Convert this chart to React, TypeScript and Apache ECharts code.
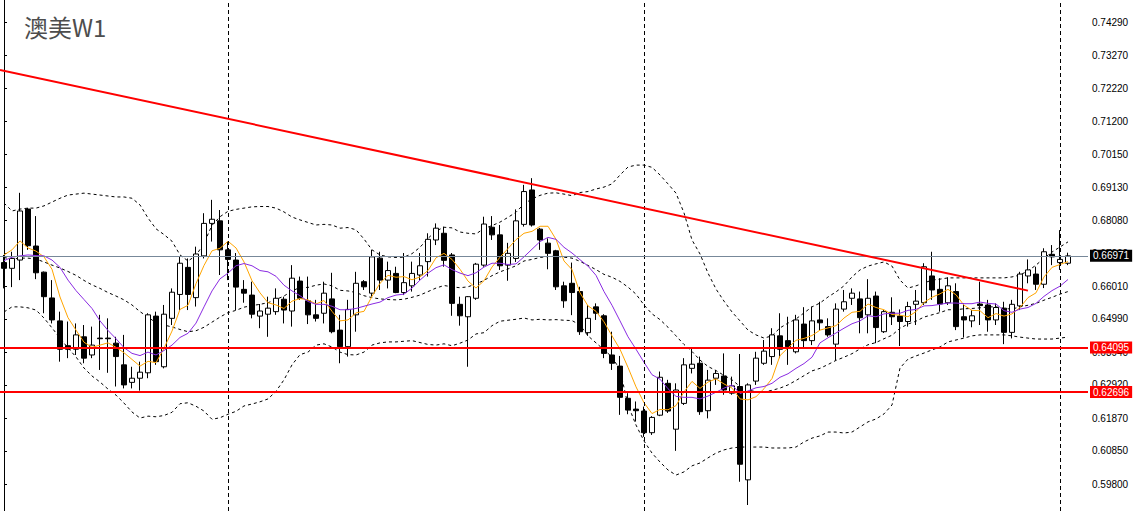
import React, { useEffect, useRef } from 'react';
import * as echarts from 'echarts';

const titleText = '澳美W1';

// weekly candles: [open, close, low, high]
const ohlc: number[][] = [
  [0.6676, 0.6658, 0.6595, 0.6700], [0.6658, 0.6689, 0.6599, 0.6710], [0.6684, 0.6838, 0.6621, 0.6895], [0.6844, 0.6729, 0.6716, 0.6848],
  [0.6728, 0.6644, 0.6624, 0.6822], [0.6646, 0.6569, 0.6517, 0.6648], [0.6565, 0.6496, 0.6485, 0.6621], [0.6493, 0.6404, 0.6365, 0.6522],
  [0.6415, 0.6404, 0.6376, 0.6491], [0.6404, 0.6449, 0.6386, 0.6485], [0.6443, 0.6376, 0.6360, 0.6480], [0.6386, 0.6417, 0.6376, 0.6475],
  [0.6439, 0.6437, 0.6339, 0.6512], [0.6439, 0.6437, 0.6330, 0.6501], [0.6423, 0.6381, 0.6287, 0.6443], [0.6355, 0.6292, 0.6281, 0.6449],
  [0.6300, 0.6313, 0.6281, 0.6349], [0.6313, 0.6332, 0.6274, 0.6365], [0.6330, 0.6512, 0.6313, 0.6517], [0.6508, 0.6365, 0.6355, 0.6522],
  [0.6349, 0.6514, 0.6344, 0.6543], [0.6501, 0.6583, 0.6480, 0.6595], [0.6576, 0.6674, 0.6527, 0.6694], [0.6661, 0.6576, 0.6527, 0.6689],
  [0.6566, 0.6703, 0.6538, 0.6726], [0.6697, 0.6799, 0.6689, 0.6831], [0.6799, 0.6812, 0.6742, 0.6873], [0.6807, 0.6716, 0.6637, 0.6841],
  [0.6716, 0.6686, 0.6621, 0.6742], [0.6684, 0.6599, 0.6527, 0.6706], [0.6592, 0.6580, 0.6550, 0.6621], [0.6574, 0.6514, 0.6501, 0.6616],
  [0.6508, 0.6524, 0.6470, 0.6546], [0.6514, 0.6533, 0.6443, 0.6569], [0.6522, 0.6564, 0.6512, 0.6595], [0.6561, 0.6527, 0.6485, 0.6569],
  [0.6524, 0.6627, 0.6475, 0.6668], [0.6618, 0.6564, 0.6559, 0.6632], [0.6556, 0.6512, 0.6483, 0.6632], [0.6512, 0.6501, 0.6491, 0.6559],
  [0.6517, 0.6580, 0.6485, 0.6616], [0.6562, 0.6459, 0.6454, 0.6644], [0.6464, 0.6412, 0.6360, 0.6512], [0.6412, 0.6529, 0.6381, 0.6559],
  [0.6512, 0.6611, 0.6459, 0.6647], [0.6616, 0.6600, 0.6590, 0.6621], [0.6580, 0.6694, 0.6569, 0.6716], [0.6690, 0.6621, 0.6590, 0.6710],
  [0.6621, 0.6651, 0.6595, 0.6679], [0.6642, 0.6582, 0.6580, 0.6663], [0.6582, 0.6613, 0.6574, 0.6706], [0.6603, 0.6642, 0.6585, 0.6679],
  [0.6637, 0.6666, 0.6621, 0.6706], [0.6679, 0.6749, 0.6632, 0.6768], [0.6747, 0.6784, 0.6731, 0.6799], [0.6768, 0.6683, 0.6663, 0.6789],
  [0.6700, 0.6548, 0.6509, 0.6706], [0.6545, 0.6509, 0.6478, 0.6569], [0.6506, 0.6569, 0.6349, 0.6571], [0.6564, 0.6671, 0.6559, 0.6675],
  [0.6668, 0.6797, 0.6663, 0.6820], [0.6787, 0.6763, 0.6747, 0.6822], [0.6763, 0.6666, 0.6653, 0.6794], [0.6668, 0.6705, 0.6619, 0.6738],
  [0.6689, 0.6807, 0.6678, 0.6843], [0.6796, 0.6899, 0.6789, 0.6920], [0.6904, 0.6794, 0.6789, 0.6941], [0.6781, 0.6747, 0.6716, 0.6785],
  [0.6737, 0.6705, 0.6655, 0.6752], [0.6713, 0.6600, 0.6590, 0.6716], [0.6603, 0.6556, 0.6534, 0.6616], [0.6611, 0.6582, 0.6511, 0.6676],
  [0.6585, 0.6459, 0.6449, 0.6600], [0.6456, 0.6501, 0.6446, 0.6543], [0.6537, 0.6517, 0.6496, 0.6548], [0.6509, 0.6391, 0.6376, 0.6514],
  [0.6386, 0.6360, 0.6339, 0.6459], [0.6351, 0.6253, 0.6198, 0.6383], [0.6250, 0.6213, 0.6200, 0.6266], [0.6216, 0.6211, 0.6177, 0.6240],
  [0.6210, 0.6142, 0.6129, 0.6224], [0.6142, 0.6190, 0.6135, 0.6194], [0.6197, 0.6316, 0.6194, 0.6334], [0.6297, 0.6210, 0.6204, 0.6308],
  [0.6153, 0.6276, 0.6085, 0.6297], [0.6234, 0.6355, 0.6229, 0.6376], [0.6344, 0.6357, 0.6328, 0.6407], [0.6360, 0.6208, 0.6198, 0.6381],
  [0.6211, 0.6307, 0.6187, 0.6339], [0.6313, 0.6328, 0.6292, 0.6339], [0.6320, 0.6276, 0.6261, 0.6391], [0.6266, 0.6289, 0.6261, 0.6318],
  [0.6287, 0.6043, 0.5988, 0.6389], [0.5994, 0.6292, 0.5915, 0.6297], [0.6304, 0.6376, 0.6292, 0.6396], [0.6360, 0.6398, 0.6355, 0.6433],
  [0.6381, 0.6449, 0.6355, 0.6470], [0.6446, 0.6404, 0.6376, 0.6517], [0.6431, 0.6412, 0.6355, 0.6506], [0.6396, 0.6496, 0.6391, 0.6512],
  [0.6483, 0.6431, 0.6407, 0.6536], [0.6431, 0.6493, 0.6417, 0.6538], [0.6496, 0.6487, 0.6464, 0.6553], [0.6475, 0.6449, 0.6443, 0.6501],
  [0.6420, 0.6530, 0.6370, 0.6548], [0.6530, 0.6553, 0.6522, 0.6590], [0.6564, 0.6580, 0.6543, 0.6595], [0.6562, 0.6503, 0.6454, 0.6585],
  [0.6512, 0.6564, 0.6454, 0.6624], [0.6571, 0.6472, 0.6423, 0.6585], [0.6459, 0.6522, 0.6455, 0.6527], [0.6520, 0.6506, 0.6480, 0.6567],
  [0.6508, 0.6491, 0.6414, 0.6529], [0.6491, 0.6538, 0.6475, 0.6553], [0.6545, 0.6555, 0.6480, 0.6590], [0.6550, 0.6663, 0.6543, 0.6674],
  [0.6634, 0.6590, 0.6559, 0.6710], [0.6592, 0.6546, 0.6522, 0.6627], [0.6550, 0.6603, 0.6543, 0.6630], [0.6585, 0.6475, 0.6464, 0.6611],
  [0.6506, 0.6496, 0.6441, 0.6548], [0.6493, 0.6509, 0.6473, 0.6527], [0.6546, 0.6541, 0.6480, 0.6616], [0.6543, 0.6496, 0.6459, 0.6559],
  [0.6496, 0.6535, 0.6480, 0.6548], [0.6533, 0.6457, 0.6420, 0.6553], [0.6457, 0.6545, 0.6438, 0.6559], [0.6540, 0.6640, 0.6527, 0.6647],
  [0.6634, 0.6653, 0.6611, 0.6686], [0.6640, 0.6608, 0.6590, 0.6663], [0.6608, 0.6710, 0.6596, 0.6721], [0.6702, 0.6694, 0.6668, 0.6731],
  [0.6676, 0.6686, 0.6653, 0.6778], [0.6674, 0.66971, 0.6668, 0.6707],
];

// orange fast moving average line
const maFast: number[] = [
  0.6700, 0.6716, 0.6744, 0.6722, 0.6712, 0.6694, 0.6655, 0.6568, 0.6503, 0.6464,
  0.6426, 0.6410, 0.6417, 0.6424, 0.6410, 0.6393, 0.6372, 0.6351, 0.6366, 0.6362,
  0.6407, 0.6461, 0.6529, 0.6542, 0.6610, 0.6667, 0.6713, 0.6721, 0.6743, 0.6722,
  0.6678, 0.6619, 0.6581, 0.6550, 0.6543, 0.6532, 0.6555, 0.6563, 0.6559, 0.6546,
  0.6557, 0.6523, 0.6493, 0.6496, 0.6518, 0.6523, 0.6570, 0.6611, 0.6636, 0.6630,
  0.6632, 0.6622, 0.6631, 0.6651, 0.6691, 0.6705, 0.6686, 0.6655, 0.6618, 0.6596,
  0.6619, 0.6662, 0.6693, 0.6720, 0.6748, 0.6768, 0.6774, 0.6790, 0.6790, 0.6749,
  0.6681, 0.6654, 0.6581, 0.6540, 0.6523, 0.6490, 0.6446, 0.6404, 0.6347, 0.6286,
  0.6236, 0.6202, 0.6215, 0.6214, 0.6227, 0.6270, 0.6303, 0.6281, 0.6301, 0.6311,
  0.6295, 0.6282, 0.6248, 0.6245, 0.6255, 0.6280, 0.6312, 0.6384, 0.6408, 0.6432,
  0.6438, 0.6447, 0.6464, 0.6471, 0.6478, 0.6502, 0.6520, 0.6523, 0.6546, 0.6535,
  0.6528, 0.6513, 0.6511, 0.6506, 0.6522, 0.6551, 0.6567, 0.6578, 0.6592, 0.6575,
  0.6542, 0.6526, 0.6525, 0.6503, 0.6516, 0.6508, 0.6515, 0.6535, 0.6566, 0.6581,
  0.6631, 0.6661, 0.6670, 0.6679,
];

// purple slow moving average line
const maSlow: number[] = [
  0.6682, 0.6693, 0.6697, 0.6700, 0.6698, 0.6697, 0.6684, 0.6661, 0.6621, 0.6588,
  0.6560, 0.6532, 0.6493, 0.6463, 0.6437, 0.6409, 0.6391, 0.6384, 0.6395, 0.6386,
  0.6400, 0.6417, 0.6441, 0.6454, 0.6486, 0.6537, 0.6587, 0.6625, 0.6643, 0.6666,
  0.6673, 0.6666, 0.6651, 0.6647, 0.6633, 0.6605, 0.6587, 0.6572, 0.6554, 0.6545,
  0.6545, 0.6539, 0.6528, 0.6528, 0.6532, 0.6539, 0.6546, 0.6552, 0.6566, 0.6574,
  0.6577, 0.6596, 0.6621, 0.6643, 0.6660, 0.6669, 0.6654, 0.6643, 0.6635, 0.6644,
  0.6662, 0.6674, 0.6674, 0.6670, 0.6672, 0.6694, 0.6718, 0.6742, 0.6755, 0.6749,
  0.6724, 0.6706, 0.6685, 0.6665, 0.6636, 0.6585, 0.6542, 0.6493, 0.6443, 0.6404,
  0.6363, 0.6324, 0.6310, 0.6280, 0.6256, 0.6253, 0.6253, 0.6248, 0.6257, 0.6269,
  0.6282, 0.6292, 0.6265, 0.6273, 0.6283, 0.6287, 0.6297, 0.6316, 0.6327, 0.6344,
  0.6359, 0.6379, 0.6424, 0.6440, 0.6455, 0.6470, 0.6484, 0.6493, 0.6509, 0.6506,
  0.6515, 0.6517, 0.6517, 0.6526, 0.6529, 0.6540, 0.6541, 0.6545, 0.6549, 0.6549,
  0.6547, 0.6547, 0.6552, 0.6548, 0.6546, 0.6525, 0.6520, 0.6530, 0.6535, 0.6548,
  0.6570, 0.6588, 0.6602, 0.6623,
];

// Bollinger bands (dotted)
const bandMid: number[] = [
  0.6692, 0.6687, 0.6690, 0.6690, 0.6687, 0.6678, 0.6668, 0.6659, 0.6648, 0.6636,
  0.6620, 0.6606, 0.6595, 0.6582, 0.6571, 0.6559, 0.6543, 0.6522, 0.6505, 0.6487,
  0.6480, 0.6474, 0.6466, 0.6459, 0.6462, 0.6473, 0.6489, 0.6505, 0.6519, 0.6526,
  0.6536, 0.6541, 0.6545, 0.6550, 0.6560, 0.6571, 0.6587, 0.6598, 0.6598, 0.6605,
  0.6609, 0.6603, 0.6589, 0.6587, 0.6582, 0.6572, 0.6566, 0.6562, 0.6560, 0.6559,
  0.6561, 0.6567, 0.6574, 0.6585, 0.6596, 0.6604, 0.6600, 0.6597, 0.6600, 0.6609,
  0.6620, 0.6635, 0.6647, 0.6656, 0.6666, 0.6681, 0.6686, 0.6692, 0.6695, 0.6696,
  0.6693, 0.6690, 0.6680, 0.6667, 0.6654, 0.6639, 0.6630, 0.6617, 0.6599, 0.6577,
  0.6543, 0.6515, 0.6497, 0.6473, 0.6446, 0.6419, 0.6397, 0.6370, 0.6350, 0.6337,
  0.6322, 0.6308, 0.6287, 0.6277, 0.6270, 0.6270, 0.6275, 0.6282, 0.6292, 0.6306,
  0.6321, 0.6336, 0.6344, 0.6356, 0.6369, 0.6379, 0.6390, 0.6405, 0.6418, 0.6425,
  0.6437, 0.6448, 0.6470, 0.6483, 0.6492, 0.6505, 0.6512, 0.6519, 0.6528, 0.6528,
  0.6531, 0.6532, 0.6534, 0.6537, 0.6537, 0.6532, 0.6530, 0.6537, 0.6542, 0.6548,
  0.6558, 0.6567, 0.6577, 0.6585,
];

const bandUpper: number[] = [
  0.6863, 0.6838, 0.6844, 0.6847, 0.6847, 0.6854, 0.6866, 0.6878, 0.6888, 0.6891,
  0.6894, 0.6891, 0.6888, 0.6885, 0.6882, 0.6882, 0.6878, 0.6857, 0.6816, 0.6782,
  0.6764, 0.6743, 0.6700, 0.6681, 0.6698, 0.6737, 0.6793, 0.6820, 0.6837, 0.6843,
  0.6847, 0.6851, 0.6852, 0.6852, 0.6847, 0.6835, 0.6819, 0.6810, 0.6802, 0.6794,
  0.6796, 0.6794, 0.6784, 0.6786, 0.6779, 0.6750, 0.6716, 0.6700, 0.6694, 0.6692,
  0.6693, 0.6704, 0.6724, 0.6752, 0.6775, 0.6787, 0.6785, 0.6772, 0.6768, 0.6766,
  0.6783, 0.6792, 0.6803, 0.6818, 0.6834, 0.6860, 0.6876, 0.6887, 0.6894, 0.6895,
  0.6891, 0.6886, 0.6896, 0.6899, 0.6907, 0.6913, 0.6923, 0.6951, 0.6976, 0.6982,
  0.6982, 0.6975, 0.6951, 0.6923, 0.6894, 0.6832, 0.6747, 0.6703, 0.6643, 0.6593,
  0.6555, 0.6521, 0.6493, 0.6464, 0.6449, 0.6439, 0.6446, 0.6471, 0.6486, 0.6499,
  0.6518, 0.6537, 0.6549, 0.6568, 0.6584, 0.6603, 0.6631, 0.6653, 0.6665, 0.6672,
  0.6678, 0.6665, 0.6621, 0.6596, 0.6603, 0.6612, 0.6621, 0.6624, 0.6628, 0.6628,
  0.6628, 0.6628, 0.6628, 0.6628, 0.6628, 0.6628, 0.6631, 0.6637, 0.6650, 0.6668,
  0.6690, 0.6709, 0.6725, 0.6741,
];

const bandLower: number[] = [
  0.6521, 0.6537, 0.6537, 0.6534, 0.6527, 0.6502, 0.6471, 0.6439, 0.6408, 0.6380,
  0.6345, 0.6320, 0.6301, 0.6279, 0.6260, 0.6235, 0.6207, 0.6188, 0.6194, 0.6192,
  0.6196, 0.6206, 0.6233, 0.6236, 0.6225, 0.6210, 0.6184, 0.6189, 0.6200, 0.6209,
  0.6226, 0.6232, 0.6239, 0.6248, 0.6272, 0.6308, 0.6355, 0.6387, 0.6395, 0.6417,
  0.6421, 0.6411, 0.6395, 0.6387, 0.6386, 0.6395, 0.6417, 0.6424, 0.6427, 0.6427,
  0.6429, 0.6431, 0.6425, 0.6419, 0.6417, 0.6421, 0.6415, 0.6423, 0.6433, 0.6452,
  0.6456, 0.6478, 0.6492, 0.6495, 0.6498, 0.6502, 0.6496, 0.6498, 0.6496, 0.6497,
  0.6495, 0.6494, 0.6480, 0.6446, 0.6424, 0.6402, 0.6380, 0.6339, 0.6229, 0.6166,
  0.6116, 0.6078, 0.6050, 0.6025, 0.6009, 0.6019, 0.6038, 0.6047, 0.6063, 0.6078,
  0.6088, 0.6094, 0.6097, 0.6097, 0.6097, 0.6097, 0.6094, 0.6094, 0.6094, 0.6097,
  0.6113, 0.6125, 0.6132, 0.6144, 0.6144, 0.6141, 0.6144, 0.6160, 0.6176, 0.6185,
  0.6201, 0.6229, 0.6345, 0.6373, 0.6383, 0.6392, 0.6402, 0.6411, 0.6427, 0.6433,
  0.6439, 0.6446, 0.6449, 0.6449, 0.6449, 0.6449, 0.6446, 0.6442, 0.6439, 0.6436,
  0.6436, 0.6436, 0.6439, 0.6442,
];

const yTickValues: number[] = [
  0.598, 0.6085, 0.6187, 0.6292, 0.6394, 0.6499, 0.6601, 0.6706,
  0.6808, 0.6913, 0.7015, 0.712, 0.7222, 0.7327, 0.7429,
];
const supportLevels: number[] = [0.64095, 0.62696];
const lastPrice = 0.66971;
const separatorBars: number[] = [28, 80, 132];
// trend line endpoints: [bar position, price]
const trendLine: number[][] = [
  [-0.5, 0.7281],
  [128, 0.6588],
];
const emptyBarsRight = 2;
const categories: string[] = Array.from({ length: ohlc.length + emptyBarsRight }, (_, i) => String(i));

const AXIS_FONT = 'Liberation Sans, Arial, sans-serif';

export default function App() {
  const ref = useRef<HTMLDivElement>(null);

  useEffect(() => {
    if (!ref.current) return;
    const chart = echarts.init(ref.current, undefined, { renderer: 'svg' });
    const dotted = { color: '#000', width: 1, type: [3, 3] as any };
    const markLabel = (bg: string, text: string) => ({
      show: true,
      position: 'end' as const,
      distance: 2,
      formatter: text,
      color: '#fff',
      backgroundColor: bg,
      padding: [1, 3, 1, 3],
      fontSize: 10,
      lineHeight: 10,
      fontFamily: AXIS_FONT,
    });
    chart.setOption({
      animation: false,
      backgroundColor: '#fff',
      title: {
        text: titleText,
        left: 24,
        top: 14,
        padding: 0,
        textStyle: {
          fontSize: 24,
          fontWeight: 'normal',
          color: '#4d4d4d',
          fontFamily: 'Noto Sans CJK SC, Noto Sans, sans-serif',
        },
      },
      grid: { left: 0, right: 47, top: 0, bottom: 0, containLabel: false },
      xAxis: [
        {
          type: 'category',
          data: categories,
          boundaryGap: true,
          axisLine: { show: false },
          axisTick: { show: false },
          axisLabel: { show: false },
          splitLine: { show: false },
        },
        {
          type: 'value',
          min: -0.5,
          max: categories.length - 0.5,
          show: false,
          splitLine: { show: false },
        },
      ],
      yAxis: {
        type: 'value',
        position: 'right',
        min: 0.58962,
        max: 0.75003,
        scale: true,
        splitLine: { show: false },
        axisLine: { show: true, lineStyle: { color: '#000', width: 1 } },
        axisTick: {
          show: true,
          length: 3,
          lineStyle: { color: '#000' },
          customValues: yTickValues,
        },
        axisLabel: {
          show: true,
          margin: 4,
          color: '#000',
          fontSize: 10,
          fontFamily: AXIS_FONT,
          customValues: yTickValues,
          formatter: (v: number) => v.toFixed(5),
        },
      },
      series: [
        {
          name: 'bbUpper', type: 'line', data: bandUpper, symbol: 'none', silent: true,
          lineStyle: dotted, z: 2,
        },
        {
          name: 'bbMid', type: 'line', data: bandMid, symbol: 'none', silent: true,
          lineStyle: dotted, z: 2,
        },
        {
          name: 'bbLower', type: 'line', data: bandLower, symbol: 'none', silent: true,
          lineStyle: dotted, z: 2,
        },
        {
          name: 'price',
          type: 'candlestick',
          data: ohlc,
          barWidth: 5,
          z: 3,
          itemStyle: {
            color: '#ffffff',
            color0: '#000000',
            borderColor: '#000000',
            borderColor0: '#000000',
            borderWidth: 1,
          },
          markLine: {
            silent: true,
            symbol: ['none', 'none'],
            label: { show: false },
            lineStyle: { color: '#000', width: 1, type: [4, 3] as any },
            data: separatorBars.map((b) => ({ xAxis: String(b) })),
          },
        },
        {
          name: 'maFast', type: 'line', data: maFast, symbol: 'none', silent: true,
          lineStyle: { color: '#ffa500', width: 1 }, z: 4,
        },
        {
          name: 'maSlow', type: 'line', data: maSlow, symbol: 'none', silent: true,
          lineStyle: { color: '#8a2be2', width: 1 }, z: 4,
        },
        {
          name: 'trend',
          type: 'line',
          xAxisIndex: 1,
          data: trendLine,
          symbol: 'none',
          silent: true,
          z: 6,
          lineStyle: { color: '#ff0000', width: 2 },
          markLine: {
            silent: true,
            precision: 5,
            symbol: ['none', 'none'],
            data: [
              {
                yAxis: lastPrice,
                lineStyle: { color: '#778899', width: 1, type: 'solid' },
                label: markLabel('#000000', lastPrice.toFixed(5)),
              },
              ...supportLevels.map((v) => ({
                yAxis: v,
                lineStyle: { color: '#ff0000', width: 2, type: 'solid' },
                label: markLabel('#ff0000', v.toFixed(5)),
              })),
            ],
          },
        },
      ],
    });
    return () => chart.dispose();
  }, []);

  return (
    <div
      ref={ref}
      style={{ position: 'fixed', left: 0, top: 0, width: 1135, height: 511, background: '#fff' }}
    />
  );
}
